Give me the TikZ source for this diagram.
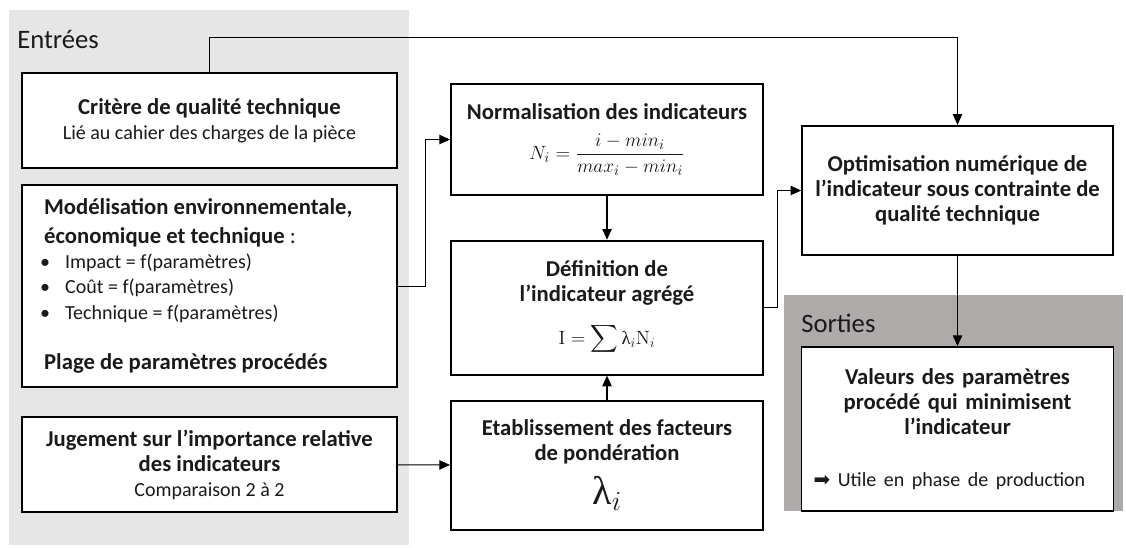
\documentclass[tikz,border=0pt]{standalone}
\usepackage{amsmath}
\usepackage[no-math]{fontspec}
\setmainfont{Carlito}
\newfontfamily\grk{Liberation Serif}
\newfontfamily\sym{DejaVu Sans}
\usepackage{xcolor}
\usetikzlibrary{arrows.meta,positioning}
\definecolor{zonein}{HTML}{E6E6E6}
\definecolor{zoneout}{HTML}{AEAAAA}
\definecolor{txt}{HTML}{1A1A1A}
\newcommand{\subtxt}{\fontsize{15}{18.8}\selectfont}

\begin{document}
\begin{tikzpicture}[
    x=0.75pt, y=-0.75pt,
    blk/.style={draw, line width=1.4pt, fill=white, align=center, text=txt,
      font=\fontsize{17}{18.8}\selectfont},
    ttl/.style={font=\fontsize{20}{22}\selectfont, text=txt, anchor=west, inner sep=0pt},
    lnk/.style={line width=0.8pt, -{Triangle[length=8pt,width=7pt]}}
  ]
    \useasboundingbox (0,0) rectangle (1126,547);
    % zones
    \fill[zonein] (9,10) rectangle (409,545);
    \fill[zoneout] (784,295) rectangle (1123,511);
    \node[ttl] (in) at (17,39) {Entrées};
    \node[ttl] (out) at (801,323) {Sorties};

    % inputs
    \node[blk, minimum width=281pt, minimum height=71pt] (crit) at (209.5,120.5)
      {\textbf{Critère de qualité technique}\\ {\subtxt Lié au cahier des charges de la pièce}};
    \node[blk, below=11.25pt of crit, minimum width=281pt, minimum height=152pt,
          text width=248pt, align=flush left] (mod)
      {\textbf{Modélisation environnementale,}\\[3pt]
       \textbf{économique et technique} :\\
       {\subtxt\hspace*{-3pt}\makebox[18.75pt][l]{•}Impact = f(paramètres)}\\
       {\subtxt\hspace*{-3pt}\makebox[18.75pt][l]{•}Coût = f(paramètres)}\\
       {\subtxt\hspace*{-3pt}\makebox[18.75pt][l]{•}Technique = f(paramètres)}\\[19pt]
       \textbf{Plage de paramètres procédés}};
    \node[blk, below=21pt of mod, minimum width=281pt, minimum height=71pt] (jug)
      {\textbf{Jugement sur l’importance relative}\\ \textbf{des indicateurs}\\
       {\subtxt Comparaison 2 à 2}};

    % middle column
    \node[blk, minimum width=234pt, minimum height=83pt] (norm) at (607,139.5)
      {\textbf{Normalisation des indicateurs}\\[10pt]
       {\fontsize{15}{18}\selectfont $\displaystyle N_i=\frac{i-min_i}{max_i-min_i}$}};
    \node[blk, below=33pt of norm, minimum width=234pt, minimum height=100.5pt] (def)
      {\textbf{Définition de}\\ \textbf{l’indicateur agrégé}\\[13pt]
       {\fontsize{14}{18}\selectfont $\displaystyle \mathrm{I}=\sum\mbox{\grk λ}_i\mathrm{N}_i$}};
    \node[blk, below=18pt of def, minimum width=234pt, minimum height=97pt] (etab)
      {\textbf{Etablissement des facteurs}\\ \textbf{de pondération}\\[8pt]
       {\fontsize{30}{30}\selectfont $\mbox{\grk λ}_i$}};

    % right column
    \node[blk, minimum width=233pt, minimum height=97pt] (opt) at (957.5,190.5)
      {\textbf{Optimisation numérique de}\\ \textbf{l’indicateur sous contrainte de}\\
       \textbf{qualité technique}};
    \node[blk, below=67.5pt of opt, minimum width=234pt, minimum height=123pt,
          text width=216pt, inner xsep=9pt] (val)
      {\textbf{Valeurs des paramètres}\\ \textbf{procédé qui minimisent}\\
       \textbf{l’indicateur}\\[20pt]
       \makebox[216pt][l]{\subtxt{\sym ➡} Utile en phase de production}};

    % links
    \draw[lnk] (crit.north) -- ++(0,-35) -| (opt.north);
    \draw[lnk] (mod.east) -- ++(28,0) |- (norm.west);
    \draw[lnk] (norm) -- (def);
    \draw[lnk] (etab) -- (def);
    \draw[lnk] (jug) -- (etab);
    \draw[lnk] (def.east) -- ++(14,0) |- (opt.west);
    \draw[lnk] (opt) -- (val);
\end{tikzpicture}
\end{document}
